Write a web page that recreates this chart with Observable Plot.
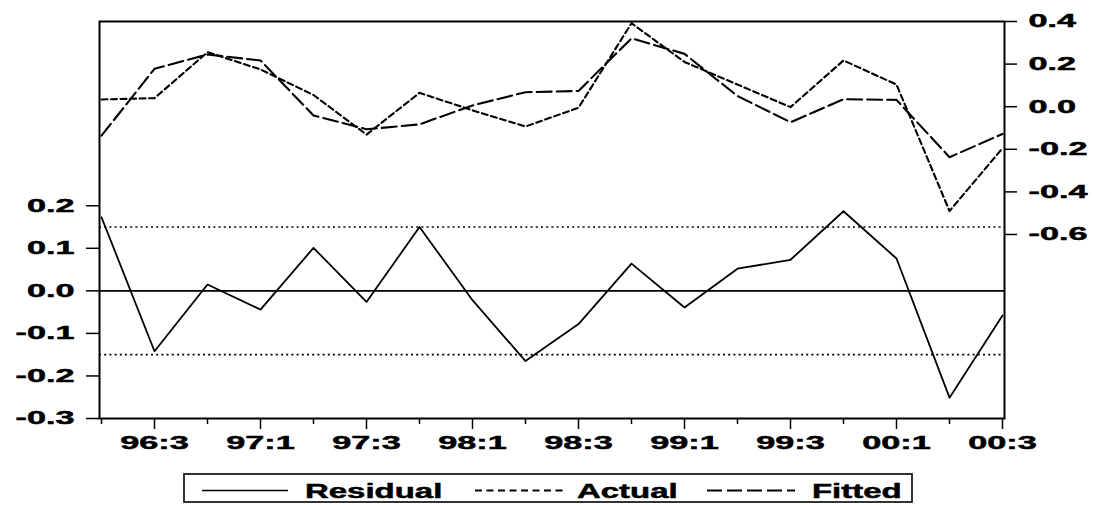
<!DOCTYPE html>
<html>
<head>
<meta charset="utf-8">
<script src="https://cdn.jsdelivr.net/npm/d3@7"></script>
<script src="https://cdn.jsdelivr.net/npm/@observablehq/plot@0.6"></script>
<style>
  html, body { margin: 0; padding: 0; background: #fff; }
  #wrap { position: relative; width: 1093px; height: 505px; background: #fff; }
  #wrap > svg { position: absolute; left: 0; }
  #wrap text { stroke: #000; stroke-width: 0.5px; }
</style>
</head>
<body>
<div id="wrap"></div>
<script>
// ---- data ----
const quarters = ["96:2","96:3","96:4","97:1","97:2","97:3","97:4","98:1","98:2","98:3","98:4","99:1","99:2","99:3","99:4","00:1","00:2","00:3"];
const residual = [0.173,-0.142,0.015,-0.044,0.101,-0.026,0.150,-0.022,-0.165,-0.078,0.064,-0.039,0.052,0.073,0.187,0.076,-0.251,-0.058];
const actual   = [0.034,0.040,0.256,0.175,0.055,-0.131,0.065,-0.017,-0.093,-0.005,0.392,0.210,0.104,-0.002,0.217,0.104,-0.490,-0.195];
const fitted   = [-0.136,0.178,0.245,0.217,-0.041,-0.106,-0.083,0.006,0.068,0.074,0.321,0.248,0.050,-0.073,0.035,0.032,-0.237,-0.128];
const labeledQuarters = ["96:3","97:1","97:3","98:1","98:3","99:1","99:3","00:1","00:3"];
const leftTicks  = [0.2, 0.1, 0.0, -0.1, -0.2, -0.3];
const rightTicks = [0.4, 0.2, 0.0, -0.2, -0.4, -0.6];
const seBand = [-0.15, 0.15];
const legendItems = ["Residual", "Actual", "Fitted"];

// ---- layout ----
const W = 1093, H = 460;
const M = {top: 21, right: 89, bottom: 42, left: 99};
const fontFamily = "'Liberation Sans', Arial, Helvetica, sans-serif";
const minorQuarters = quarters.filter(q => !labeledQuarters.includes(q));
const fmt = d => d.toFixed(1);

const rows = quarters.map((q, i) => ({q, residual: residual[i], actual: actual[i], fitted: fitted[i]}));

const common = {
  width: W, height: H,
  marginTop: M.top, marginRight: M.right, marginBottom: M.bottom, marginLeft: M.left,
  style: {background: "transparent", fontFamily, fontSize: "18.5px", fontWeight: "bold", color: "#000", overflow: "visible"},
  x: {type: "point", domain: quarters, padding: 0, axis: null, label: null}
};

// residual panel (left axis)
const plotA = Plot.plot({
  ...common,
  y: {domain: [-0.3, 0.633], axis: null, label: null},
  marks: [
    Plot.ruleY(seBand, {stroke: "#000", strokeWidth: 1.6, strokeDasharray: "2,3.2"}),
    Plot.ruleY([0], {stroke: "#000", strokeWidth: 1.6}),
    Plot.lineY(rows, {x: "q", y: "residual", stroke: "#000", strokeWidth: 1.8}),
    Plot.axisY(leftTicks, {anchor: "left", label: null, tickSize: 13, tickPadding: 12, tickFormat: fmt, strokeWidth: 1.5}),
    Plot.axisX(minorQuarters, {anchor: "bottom", label: null, tickSize: 6, tickFormat: () => null, strokeWidth: 1.5}),
    Plot.axisX(labeledQuarters, {anchor: "bottom", label: null, tickSize: 11, tickPadding: 6, strokeWidth: 1.5}),
    Plot.frame({stroke: "#000", strokeWidth: 2})
  ]
});

// actual / fitted panel (right axis)
const plotB = Plot.plot({
  ...common,
  y: {domain: [-1.464, 0.4], axis: null, label: null},
  marks: [
    Plot.lineY(rows, {x: "q", y: "actual", stroke: "#000", strokeWidth: 2.1, strokeDasharray: "6,3.5"}),
    Plot.lineY(rows, {x: "q", y: "fitted", stroke: "#000", strokeWidth: 2.1, strokeDasharray: "15,5"}),
    Plot.axisY(rightTicks, {anchor: "right", label: null, tickSize: 12, tickPadding: 12, tickFormat: fmt, strokeWidth: 1.5})
  ]
});

// the reference uses a very wide typeface: stretch text horizontally about its anchor
function stretch(svg, sx) {
  svg.querySelectorAll("text").forEach(t => {
    const x = +t.getAttribute("x") || 0, y = +t.getAttribute("y") || 0;
    const tr = t.getAttribute("transform") || "";
    t.setAttribute("transform", `${tr} translate(${x},${y}) scale(${sx},1) translate(${-x},${-y})`);
  });
}
stretch(plotA, 1.85);
stretch(plotB, 1.85);

const wrap = document.getElementById("wrap");
plotA.style.top = "0px";
plotB.style.top = "0px";
wrap.appendChild(plotA);
wrap.appendChild(plotB);

// ---- legend (below the chart) ----
const leg = d3.create("svg")
  .attr("width", W).attr("height", 45)
  .style("top", H + "px")
  .style("font-family", fontFamily).style("font-weight", "bold").style("font-size", "21px");
leg.append("rect").attr("x", 184).attr("y", 14).attr("width", 728).attr("height", 28)
  .attr("fill", "#fff").attr("stroke", "#000").attr("stroke-width", 1.6);
const ly = 30.5, lb = 38;
const samples = [
  {x1: 202, x2: 288, dash: null, width: 1.5, tx: 305},
  {x1: 475, x2: 563, dash: "7,4.5", width: 1.8, tx: 577},
  {x1: 707, x2: 795, dash: "15,5", width: 1.8, tx: 812}
];
samples.forEach((s, i) => {
  const l = leg.append("line").attr("x1", s.x1).attr("x2", s.x2).attr("y1", ly).attr("y2", ly)
    .attr("stroke", "#000").attr("stroke-width", s.width);
  if (s.dash) l.attr("stroke-dasharray", s.dash);
  leg.append("text").attr("x", s.tx).attr("y", lb).attr("fill", "#000").text(legendItems[i]);
});
stretch(leg.node(), 1.57);
wrap.appendChild(leg.node());
</script>
</body>
</html>
